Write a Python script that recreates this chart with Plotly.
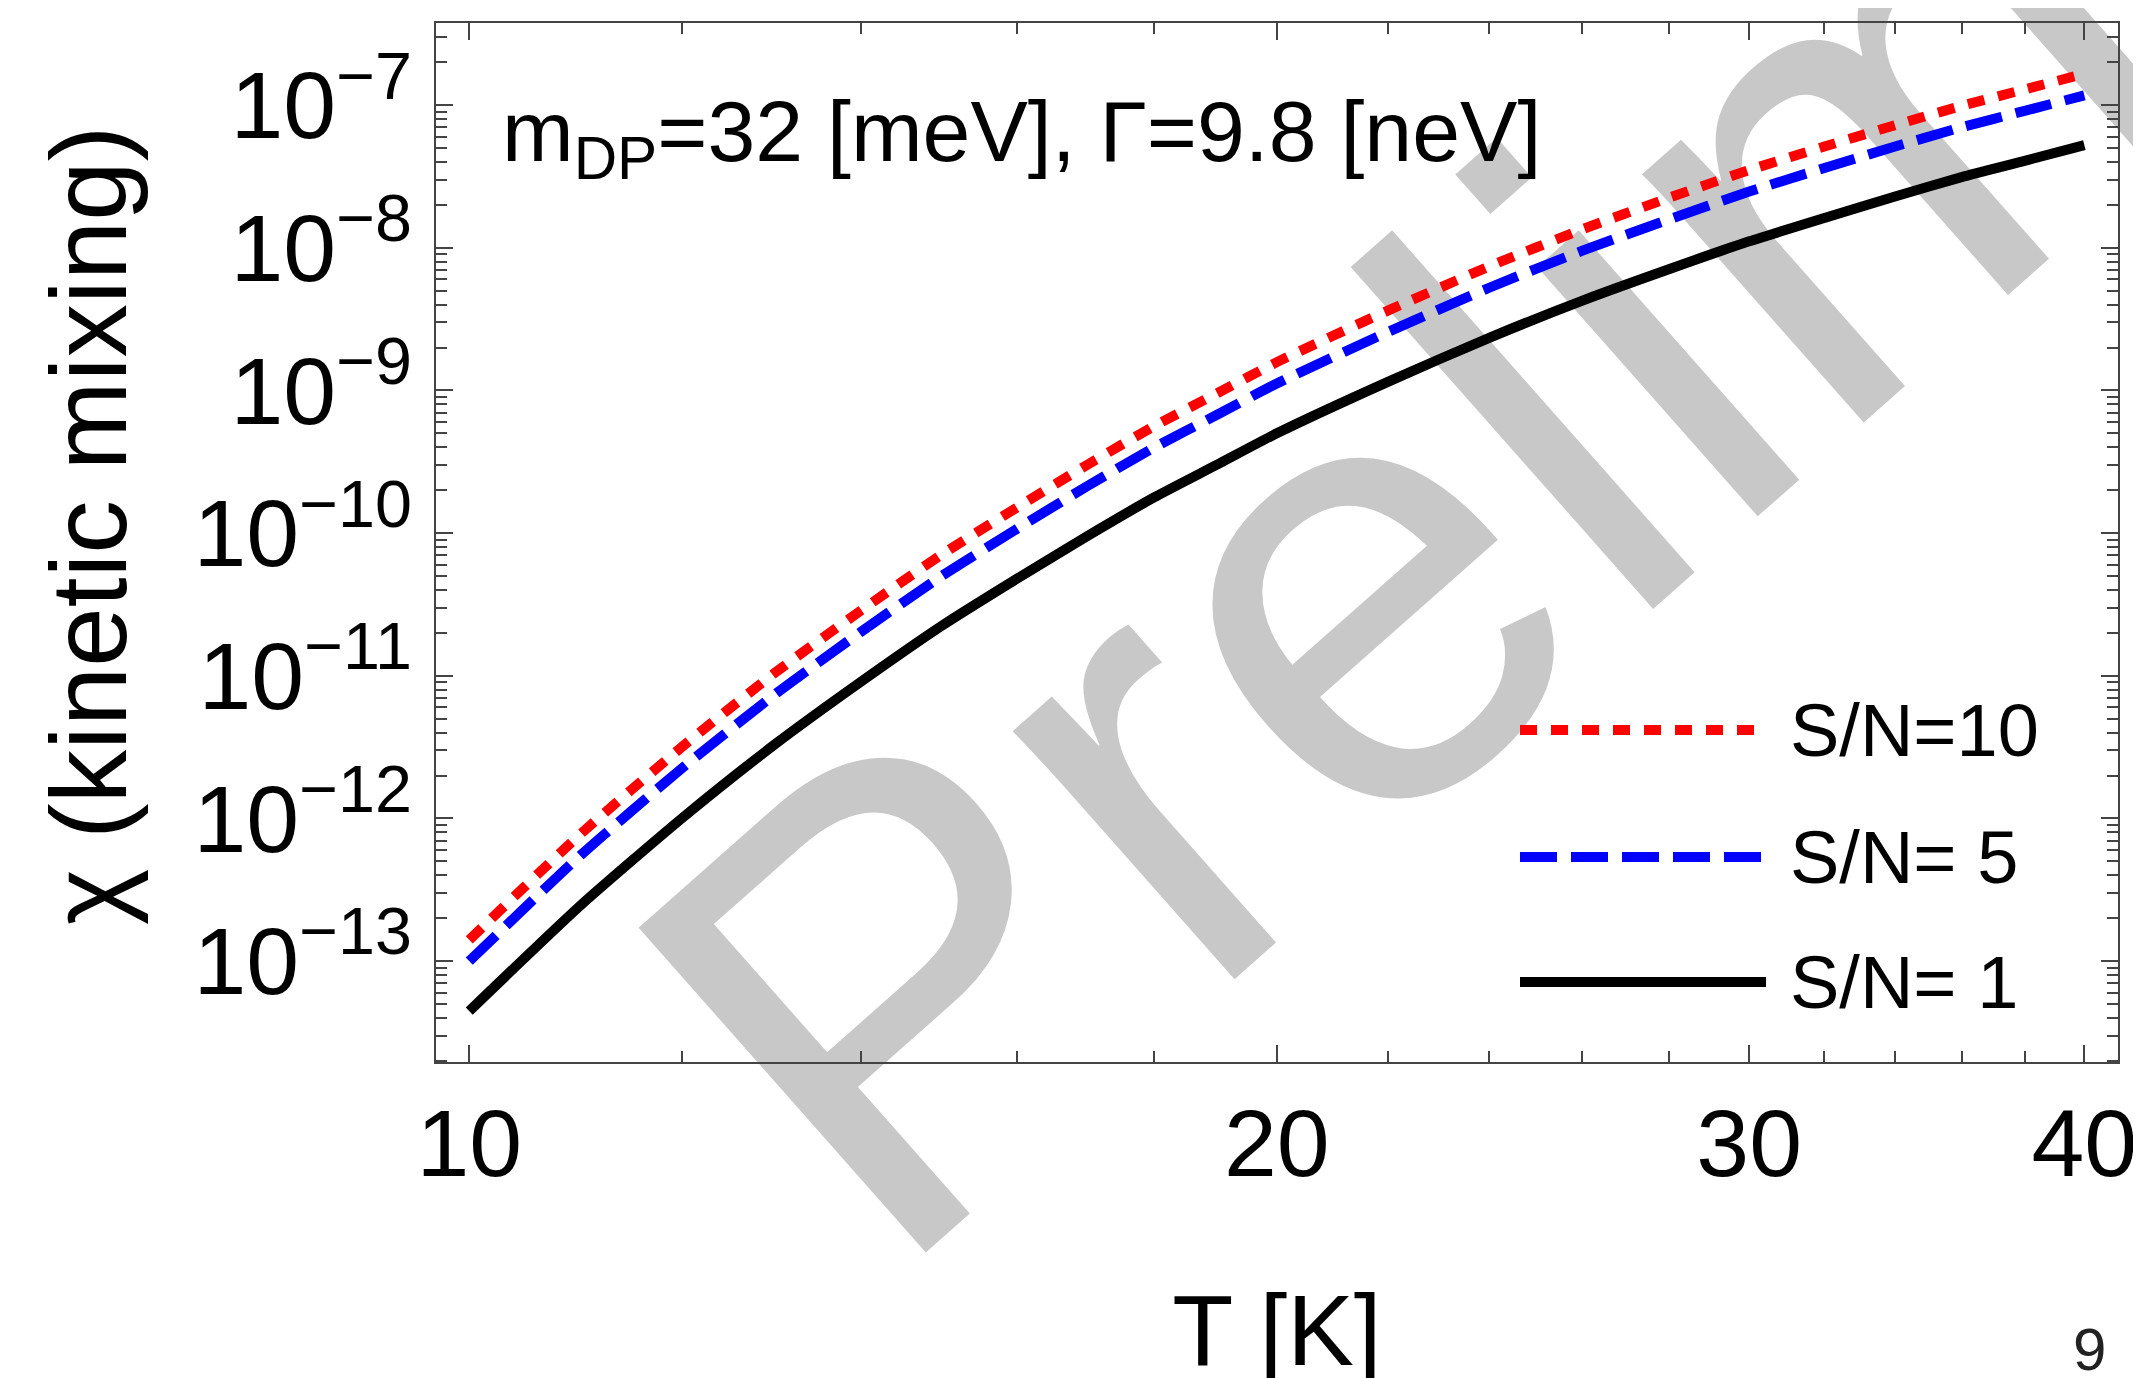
import plotly.graph_objects as go

# ---------------- data ----------------
T_K = [10, 11, 12, 13, 14, 15, 16, 17, 18, 19, 20, 22, 24, 26, 28, 30, 32, 34, 36, 38, 40]

chi_sn10 = [1.41e-13, 7.76e-13, 3.16e-12, 1.05e-11, 2.88e-11, 7.08e-11, 1.51e-10,
            3.02e-10, 5.62e-10, 9.55e-10, 1.58e-9, 3.63e-9, 7.41e-9, 1.35e-8,
            2.24e-8, 3.51e-8, 5.13e-8, 7.24e-8, 9.89e-8, 1.29e-7, 1.66e-7]
chi_sn5 = [1.00e-13, 5.50e-13, 2.24e-12, 7.41e-12, 2.04e-11, 5.01e-11, 1.07e-10,
           2.14e-10, 3.98e-10, 6.76e-10, 1.12e-9, 2.57e-9, 5.25e-9, 9.55e-9,
           1.58e-8, 2.48e-8, 3.63e-8, 5.13e-8, 7.00e-8, 9.12e-8, 1.17e-7]
chi_sn1 = [4.47e-14, 2.45e-13, 1.00e-12, 3.31e-12, 9.12e-12, 2.24e-11, 4.79e-11,
           9.55e-11, 1.78e-10, 3.02e-10, 5.01e-10, 1.15e-9, 2.34e-9, 4.27e-9,
           7.08e-9, 1.11e-8, 1.62e-8, 2.29e-8, 3.13e-8, 4.07e-8, 5.25e-8]

series_names = ["S/N=10", "S/N= 5", "S/N= 1"]

x_tick_vals = [10, 20, 30, 40]
x_tick_text = ["10", "20", "30", "40"]
x_minor_vals = [12, 14, 16, 18, 22, 24, 26, 28, 32, 34, 36, 38]

y_exponents = [-13, -12, -11, -10, -9, -8, -7]
y_tick_vals = [10.0 ** e for e in y_exponents]
y_tick_text = ["10<sup>\u2212%d</sup>" % (-e) for e in y_exponents]
y_minor_vals = [k * 10.0 ** e for e in range(-14, -6) for k in range(2, 10)]

x_range_log = [0.9876, 1.6146]
y_range_log = [-13.707, -6.424]

# ---------------- figure geometry ----------------
# the page body has an 8 px margin, so everything is laid out in screen
# coordinates and shifted back by that offset
OFF = 8
W, H = 2141, 1378
PL, PR, PT, PB = 436, 2118, 23, 1062          # plot frame on screen
ML, MT = PL - OFF, PT - OFF
MR, MB = W - (PR - OFF), H - (PB - OFF)
PW, PH = PR - PL, PB - PT

def px(x):
    return (x - PL) / PW

def py(y):
    return (PB - y) / PH

FONT = "Liberation Sans, Arial, Helvetica, sans-serif"

styles = [
    dict(color="#ff0000", width=10, dash="17px,14px"),
    dict(color="#0000ff", width=10, dash="37px,14px"),
    dict(color="#000000", width=10, dash="solid"),
]
values = [chi_sn10, chi_sn5, chi_sn1]

fig = go.Figure()
for name, vals, st in zip(series_names, values, styles):
    fig.add_trace(go.Scatter(x=T_K, y=vals, mode="lines", name=name,
                             line=dict(color=st["color"], width=st["width"],
                                       dash=st["dash"], shape="spline", smoothing=0.6),
                             showlegend=False))

axis_common = dict(
    showline=True, linecolor="#444444", linewidth=2, mirror="allticks",
    ticks="inside", ticklen=17, tickwidth=2, tickcolor="#444444",
    showgrid=False, zeroline=False, automargin=False,
)

fig.update_xaxes(type="log", range=x_range_log, tickmode="array",
                 tickvals=x_tick_vals, ticktext=x_tick_text,
                 tickfont=dict(family=FONT, size=95, color="black"),
                 minor=dict(tickmode="array", tickvals=x_minor_vals, ticks="inside",
                            ticklen=11, tickwidth=2, tickcolor="#444444", showgrid=False),
                 title=dict(text="T [K]", font=dict(family=FONT, size=100, color="black"),
                            standoff=125),
                 ticklabelstandoff=-2,
                 **axis_common)
fig.update_yaxes(type="log", range=y_range_log, tickmode="array",
                 tickvals=y_tick_vals, ticktext=y_tick_text,
                 tickfont=dict(family=FONT, size=95, color="black"),
                 minor=dict(tickmode="array", tickvals=y_minor_vals, ticks="inside",
                            ticklen=11, tickwidth=2, tickcolor="#444444", showgrid=False),
                 ticklabelstandoff=3,
                 **axis_common)

shapes = []
annotations = []

# watermark (below the curves)
WM_X, WM_Y = 1884, 36
shapes.append(dict(type="rect", xref="paper", yref="paper", layer="below",
                   x0=px(WM_X) - 0.001, x1=px(WM_X) + 0.001,
                   y0=py(WM_Y) - 0.001, y1=py(WM_Y) + 0.001,
                   line=dict(width=0), fillcolor="rgba(0,0,0,0)",
                   label=dict(text="Preliminary", textangle=-41.5, textposition="middle center",
                              font=dict(family=FONT, size=630, color="#c8c8c8"))))

# legend (drawn by hand: long line samples)
leg_rows_y = [730, 857, 982]
for name, st, yy in zip(series_names, styles, leg_rows_y):
    shapes.append(dict(type="line", xref="paper", yref="paper",
                       x0=px(1520), x1=px(1766), y0=py(yy), y1=py(yy),
                       line=dict(color=st["color"], width=st["width"], dash=st["dash"])))
    annotations.append(dict(xref="paper", yref="paper", x=px(1788), y=py(yy),
                            xanchor="left", yanchor="middle", showarrow=False,
                            text=name, font=dict(family=FONT, size=74, color="black")))

# y-axis title
annotations.append(dict(xref="paper", yref="paper", x=px(89), y=py(526),
                        xanchor="center", yanchor="middle", showarrow=False,
                        textangle=-90, text="\u03c7 (kinetic mixing)",
                        font=dict(family=FONT, size=107, color="black")))

annotations.append(dict(xref="paper", yref="paper", x=px(500), y=py(137),
                        xanchor="left", yanchor="middle", showarrow=False,
                        text="m<sub>DP</sub>=32 [meV], \u0393=9.8 [neV]",
                        font=dict(family=FONT, size=86, color="black")))

annotations.append(dict(xref="paper", yref="paper", x=px(2089), y=py(1350),
                        xanchor="center", yanchor="middle", showarrow=False,
                        text="9", font=dict(family=FONT, size=60, color="#222222")))

fig.update_layout(
    width=W, height=H, autosize=False,
    margin=dict(l=ML, r=MR, t=MT, b=MB, pad=0),
    paper_bgcolor="white", plot_bgcolor="rgba(0,0,0,0)",
    showlegend=False,
    shapes=shapes, annotations=annotations,
    font=dict(family=FONT, color="black"),
)

fig.write_html("out.html")
